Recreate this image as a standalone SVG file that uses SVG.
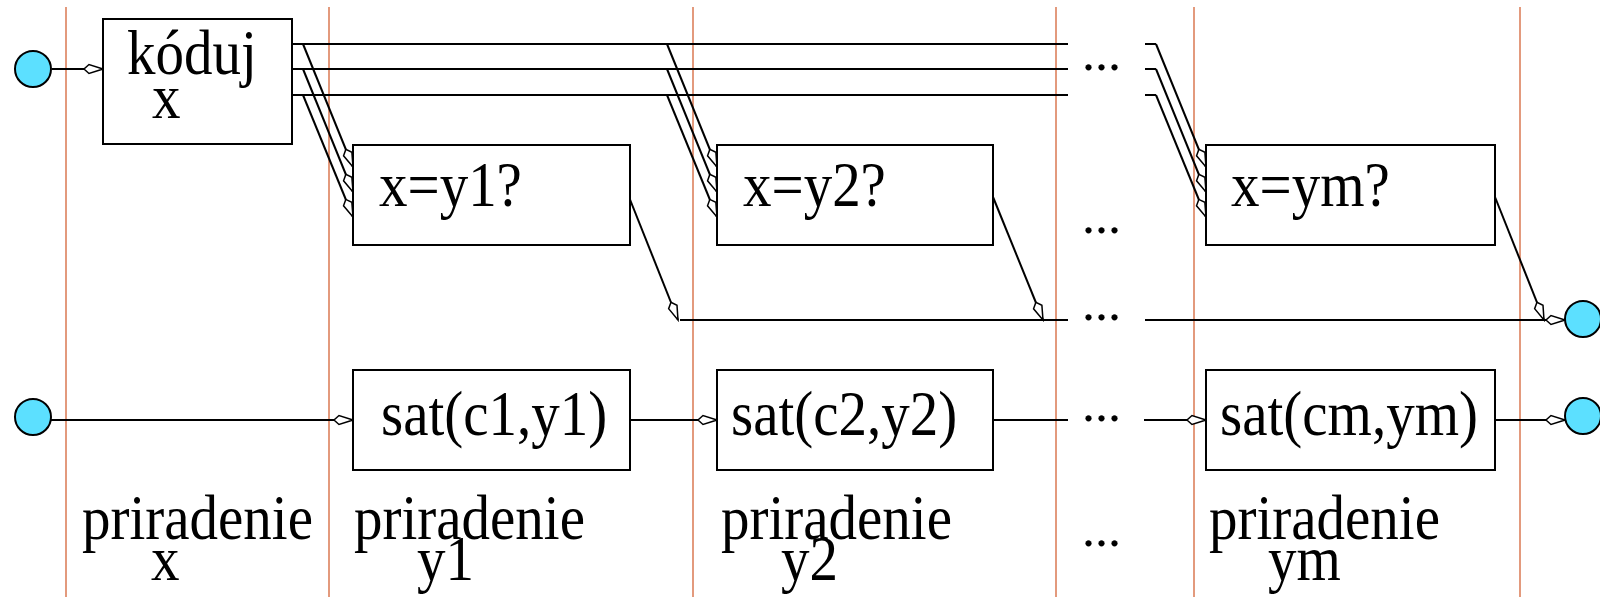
<svg xmlns="http://www.w3.org/2000/svg" width="1600" height="597" viewBox="0 0 1600 597">
<style>
.lane{stroke:#e39a7d;stroke-width:2;fill:none}
.box{fill:#fff;stroke:#000;stroke-width:2}
.t{font-family:"Liberation Serif","Times New Roman",serif;font-size:57px;fill:#000}
.dots{font-family:"Liberation Serif","Times New Roman",serif;font-size:52px;fill:#000}
.c{fill:none;stroke:#000;stroke-width:2}
.a{fill:none;stroke:#000;stroke-width:2;marker-end:url(#arr)}
.term{fill:#5ce0ff;stroke:#000;stroke-width:2}
</style>
<defs>
<marker id="arr" viewBox="-21 -7 23 14" refX="0" refY="0" markerWidth="23" markerHeight="14" markerUnits="userSpaceOnUse" orient="auto">
<path d="M0,0 L-14,-4.5 L-19,0 L-14,4.5 Z" fill="#fff" stroke="#000" stroke-width="1.5"/>
</marker>
</defs>
<rect width="1600" height="597" fill="#fff"/>
<g id="lanes">
<line class="lane" x1="66" y1="7" x2="66" y2="597"/>
<line class="lane" x1="329" y1="7" x2="329" y2="597"/>
<line class="lane" x1="693" y1="7" x2="693" y2="597"/>
<line class="lane" x1="1056" y1="7" x2="1056" y2="597"/>
<line class="lane" x1="1194" y1="7" x2="1194" y2="597"/>
<line class="lane" x1="1520" y1="7" x2="1520" y2="597"/>
</g>
<g id="connectors">
<path class="a" d="M52,69 L103,69"/>
<path class="c" d="M292,44 H1068 M292,69 H1068 M292,95 H1068"/>
<path class="c" d="M1145,44 H1156 M1145,69 H1156 M1145,95 H1156"/>
<path class="a" d="M303,44 L353,167"/>
<path class="a" d="M303,69 L353,192"/>
<path class="a" d="M303,95 L353,217"/>
<path class="a" d="M667,44 L717,167"/>
<path class="a" d="M667,69 L717,192"/>
<path class="a" d="M667,95 L717,217"/>
<path class="a" d="M1156,44 L1206,167"/>
<path class="a" d="M1156,69 L1206,192"/>
<path class="a" d="M1156,95 L1206,217"/>
<path class="a" d="M629,197 L678,320"/>
<path class="a" d="M993,197 L1043,320"/>
<path class="a" d="M1495,197 L1544,320"/>
<path class="c" d="M680,320 H1068"/>
<path class="a" d="M1145,320 H1565"/>
<path class="a" d="M51,420 H353"/>
<path class="a" d="M630,420 H717"/>
<path class="c" d="M993,420 H1068"/>
<path class="a" d="M1144,420 H1206"/>
<path class="a" d="M1495,420 H1565"/>
</g>
<g id="in-x"><circle class="term" cx="33" cy="69" r="18"/></g>
<g id="in-sat"><circle class="term" cx="33" cy="417" r="18"/></g>
<g id="out-eq"><circle class="term" cx="1583" cy="319" r="18"/></g>
<g id="out-sat"><circle class="term" cx="1583" cy="416" r="18"/></g>
<g id="koduj">
<rect class="box" x="103" y="19" width="189" height="125"/>
<text class="t" transform="translate(127,74) scale(1,1.1)">kóduj</text>
<text class="t" transform="translate(152,118) scale(1,1.1)">x</text>
</g>
<g id="eq1"><rect class="box" x="353" y="145" width="277" height="100"/><text class="t" transform="translate(379,206) scale(1,1.1)">x=y1?</text></g>
<g id="eq2"><rect class="box" x="717" y="145" width="276" height="100"/><text class="t" transform="translate(743,206) scale(1,1.1)">x=y2?</text></g>
<g id="eqm"><rect class="box" x="1206" y="145" width="289" height="100"/><text class="t" transform="translate(1231,206) scale(1,1.1)">x=ym?</text></g>
<g id="sat1"><rect class="box" x="353" y="370" width="277" height="100"/><text class="t" transform="translate(381,435) scale(1,1.1)">sat(c1,y1)</text></g>
<g id="sat2"><rect class="box" x="717" y="370" width="276" height="100"/><text class="t" transform="translate(731,435) scale(1,1.1)">sat(c2,y2)</text></g>
<g id="satm"><rect class="box" x="1206" y="370" width="289" height="100"/><text class="t" transform="translate(1220,435) scale(1,1.1)">sat(cm,ym)</text></g>
<g id="labels">
<text class="t" transform="translate(82,539) scale(1,1.1)">priradenie</text>
<text class="t" transform="translate(151,580) scale(1,1.1)">x</text>
<text class="t" transform="translate(354,539) scale(1,1.1)">priradenie</text>
<text class="t" transform="translate(417,580) scale(1,1.1)">y1</text>
<text class="t" transform="translate(721,539) scale(1,1.1)">priradenie</text>
<text class="t" transform="translate(781,580) scale(1,1.1)">y2</text>
<text class="t" transform="translate(1209,539) scale(1,1.1)">priradenie</text>
<text class="t" transform="translate(1268,580) scale(1,1.1)">ym</text>
</g>
<g id="ellipses">
<text class="dots" x="1082" y="70">...</text>
<text class="dots" x="1082" y="233">...</text>
<text class="dots" x="1082" y="320">...</text>
<text class="dots" x="1082" y="421">...</text>
<text class="dots" x="1082" y="546">...</text>
</g>
</svg>
